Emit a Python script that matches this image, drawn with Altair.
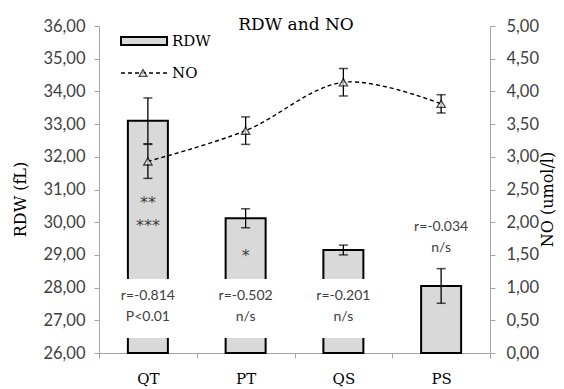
import altair as alt
import pandas as pd

# ---- data -------------------------------------------------------------
groups = ["QT", "PT", "QS", "PS"]
rdw_mean = [33.10, 30.12, 29.15, 28.05]
rdw_err = [0.70, 0.29, 0.15, 0.53]
no_mean = [2.93, 3.40, 4.14, 3.81]
no_err = [0.26, 0.21, 0.21, 0.14]
r_text = ["r=-0.814", "r=-0.502", "r=-0.201", "r=-0.034"]
p_text = ["P<0.01", "n/s", "n/s", "n/s"]
stars = [["**", "***"], ["*"], [], []]

# ---- layout -----------------------------------------------------------
W, H = 391, 327
RDW_MIN, RDW_MAX = 26, 36
NO_MIN, NO_MAX = 0, 5
BOX_LO, BOX_HI = 26.46, 28.26          # white label box cut into bars
SERIF = "DejaVu Serif"
SANS = "Lato"
AXIS_GRAY = "#a6a6a6"
TEXT_GRAY = "#404040"

df = pd.DataFrame({
    "group": groups,
    "rdw": rdw_mean,
    "rdw_lo": [m - e for m, e in zip(rdw_mean, rdw_err)],
    "rdw_hi": [m + e for m, e in zip(rdw_mean, rdw_err)],
    "no": no_mean,
    "no_lo": [m - e for m, e in zip(no_mean, no_err)],
    "no_hi": [m + e for m, e in zip(no_mean, no_err)],
    "base": [RDW_MIN] * len(groups),
})

# correlation labels: inside a white box when the bar clears it, else above
label_rows, box_rows, star_rows = [], [], []
for g, lo, hi, r, p, st in zip(groups, df["rdw_lo"], df["rdw_hi"], r_text, p_text, stars):
    if lo > BOX_HI + 0.5:
        box_rows.append({"group": g, "b0": BOX_LO, "b1": BOX_HI})
        y_r, y_p = 27.74, 27.10
        mid = (lo + BOX_HI) / 2
        n = len(st)
        for i, s in enumerate(st):
            star_rows.append({"group": g, "t": s, "y": mid + 0.35 * (n - 1) - 0.7 * i})
    else:
        y_r, y_p = hi + 1.26, hi + 0.62
    label_rows.append({"group": g, "t": r, "y": y_r})
    label_rows.append({"group": g, "t": p, "y": y_p})
labels = pd.DataFrame(label_rows)
boxes = pd.DataFrame(box_rows)
star_df = pd.DataFrame(star_rows)

# ---- scales / axes ----------------------------------------------------
x_enc = alt.X(
    "group:N", sort=groups, title=None,
    scale=alt.Scale(paddingInner=0, paddingOuter=0),
    axis=alt.Axis(
        labelAngle=0, tickBand="extent", domainColor=AXIS_GRAY, tickColor=AXIS_GRAY,
        tickSize=5, labelPadding=13, labelFont=SERIF, labelFontSize=15,
        labelColor="black", domainWidth=1.2,
    ),
)

num_fmt = "replace(format(datum.value, '.2f'), '.', ',')"

left_scale = alt.Scale(domain=[RDW_MIN, RDW_MAX], zero=False, nice=False)
left_axis = alt.Axis(
    title=None, values=list(range(RDW_MIN, RDW_MAX + 1)), grid=False,
    labelExpr=num_fmt,
    domainColor=AXIS_GRAY, tickColor=AXIS_GRAY, tickSize=5, labelPadding=9,
    labelFont=SANS, labelFontSize=16.5, labelColor=TEXT_GRAY,
)

right_scale = alt.Scale(domain=[NO_MIN, NO_MAX], zero=False, nice=False)
right_axis = alt.Axis(
    title=None, orient="right", values=[i * 0.5 for i in range(11)], grid=False,
    labelExpr=num_fmt,
    domainColor=AXIS_GRAY, tickColor=AXIS_GRAY, tickSize=5, labelPadding=11,
    labelFont=SANS, labelFontSize=16.5, labelColor=TEXT_GRAY,
)

def ly(field):
    return alt.Y(field, scale=left_scale, axis=left_axis)

def ry(field):
    return alt.Y(field, scale=right_scale, axis=right_axis)

# ---- RDW bars (left axis) ---------------------------------------------
bars = alt.Chart(df).mark_bar(size=40, fill="#d9d9d9", stroke="black", strokeWidth=2).encode(
    x=x_enc, y=ly("rdw:Q"), y2="base:Q")
cut = alt.Chart(boxes).mark_bar(size=46, fill="white", stroke="white", strokeWidth=0).encode(
    x=x_enc, y=ly("b0:Q"), y2="b1:Q")
rdw_rule = alt.Chart(df).mark_rule(color="black", strokeWidth=1.3).encode(
    x=x_enc, y=ly("rdw_lo:Q"), y2="rdw_hi:Q")
rdw_cap_hi = alt.Chart(df).mark_tick(color="black", size=9, thickness=1.5, orient="horizontal").encode(
    x=x_enc, y=ly("rdw_hi:Q"))
rdw_cap_lo = alt.Chart(df).mark_tick(color="black", size=9, thickness=1.5, orient="horizontal").encode(
    x=x_enc, y=ly("rdw_lo:Q"))
r_labels = alt.Chart(labels).mark_text(font=SANS, fontSize=14, color=TEXT_GRAY, baseline="middle").encode(
    x=x_enc, y=ly("y:Q"), text="t:N")
star_text = alt.Chart(star_df).mark_text(
    font="DejaVu Sans", fontSize=16, color=TEXT_GRAY, baseline="middle", dy=3).encode(
    x=x_enc, y=ly("y:Q"), text="t:N")

left = alt.layer(bars, cut, rdw_rule, rdw_cap_hi, rdw_cap_lo, r_labels, star_text)

# ---- NO line (right axis) ---------------------------------------------
no_line = alt.Chart(df).mark_line(
    color="black", strokeWidth=1.4, strokeDash=[4, 3], interpolate="catmull-rom").encode(
    x=x_enc, y=ry("no:Q"))
no_rule = alt.Chart(df).mark_rule(color="black", strokeWidth=1.3).encode(
    x=x_enc, y=ry("no_lo:Q"), y2="no_hi:Q")
no_cap_hi = alt.Chart(df).mark_tick(color="black", size=9, thickness=1.5, orient="horizontal").encode(
    x=x_enc, y=ry("no_hi:Q"))
no_cap_lo = alt.Chart(df).mark_tick(color="black", size=9, thickness=1.5, orient="horizontal").encode(
    x=x_enc, y=ry("no_lo:Q"))
no_pts = alt.Chart(df).mark_point(
    shape="triangle-up", size=70, filled=True, fill="#f2f2f2", stroke="black", strokeWidth=1.3).encode(
    x=x_enc, y=ry("no:Q"))

right = alt.layer(no_line, no_rule, no_cap_hi, no_cap_lo, no_pts)

# ---- titles and hand-drawn legend -------------------------------------
one = pd.DataFrame({"k": [0]})
def label(text, x, y, size=16, angle=0, align="center"):
    return alt.Chart(one).mark_text(
        font=SERIF, fontSize=size, color="black", baseline="middle", align=align, angle=angle
    ).encode(x=alt.value(x), y=alt.value(y), text=alt.value(text))

title = label("RDW and NO", 197, -1, size=17)
y_title_l = label("RDW  (fL)", -78, H / 2 + 10, size=16, angle=270)
y_title_r = label("NO (umol/l)", W + 58, H / 2 + 10, size=16, angle=270)
leg_box = alt.Chart(one).mark_rect(fill="#d9d9d9", stroke="black", strokeWidth=2).encode(
    x=alt.value(22), x2=alt.value(68), y=alt.value(11), y2=alt.value(19))
leg_line = alt.Chart(one).mark_rule(color="black", strokeWidth=1.4, strokeDash=[4, 3]).encode(
    x=alt.value(22), x2=alt.value(68), y=alt.value(47))
leg_pt = alt.Chart(one).mark_point(
    shape="triangle-up", size=60, filled=True, fill="#f2f2f2", stroke="black", strokeWidth=1.3).encode(
    x=alt.value(44), y=alt.value(47))
leg_txt1 = label("RDW", 73, 15, size=15, align="left")
leg_txt2 = label("NO", 73, 47, size=15, align="left")
extras = alt.layer(title, y_title_l, y_title_r, leg_box, leg_line, leg_pt, leg_txt1, leg_txt2)

chart = alt.layer(left, right, extras).resolve_scale(y="independent").properties(
    width=W, height=H,
    autosize=alt.AutoSizeParams(type="none"),
    padding={"left": 99, "top": 26, "right": 74, "bottom": 36},
    background="white",
).configure_view(stroke=None)

chart.save("out.html", embed_options={"renderer": "svg", "actions": False})
